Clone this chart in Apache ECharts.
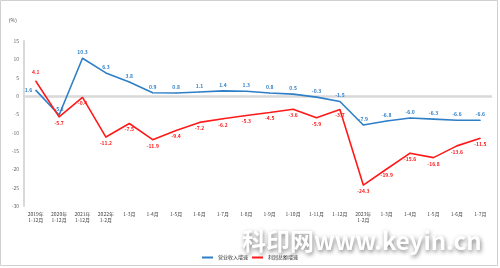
<!DOCTYPE html>
<html><head><meta charset="utf-8">
<script src="https://cdn.jsdelivr.net/npm/echarts@6/dist/echarts.min.js"></script>
<style>html,body{margin:0;padding:0;background:#fff}#c{width:500px;height:268px}</style>
</head><body><div id="c"></div>
<script>
var categories = ['2019年\n1-12月','2020年\n1-12月','2021年\n1-12月','2022年\n1-2月','1-3月','1-4月','1-5月','1-6月','1-7月','1-8月','1-9月','1-10月','1-11月','1-12月','2023年\n1-2月','1-3月','1-4月','1-5月','1-6月','1-7月'];
var revenue = [1.6,-5.2,10.3,6.3,3.8,0.9,0.8,1.1,1.4,1.3,0.8,0.5,-0.3,-1.5,-7.9,-6.8,-6.0,-6.3,-6.6,-6.6];
var profit = [4.1,-5.7,-0.4,-11.2,-7.5,-11.9,-9.4,-7.2,-6.2,-5.3,-4.5,-3.6,-5.9,-3.7,-24.3,-19.9,-15.6,-16.8,-13.6,-11.5];
var seriesNames = ['营业收入增速','利润总额增速'];
var blue = '#2f7fc7', red = '#ff1a1a';
var font = 'Noto Sans CJK SC';
var chart = echarts.init(document.getElementById('c'));
function lbl(pos, color){return {show:true, position:pos, fontSize:5, fontWeight:'bold', color:color, fontFamily:font, distance:3,
  formatter:function(p){return Number(p.value).toFixed(1);}};}
var revData = revenue.map(function(v,i){var d={value:v}; if(i===0){d.label={position:'left'};} return d;});
var proData = profit.map(function(v,i){var d={value:v}; if(i===0){d.label={position:'top', distance:6};} return d;});
chart.setOption({
  animation:false,
  grid:{left:24,right:8,top:41,bottom:62},
  legend:{data:seriesNames,bottom:3,left:'center',itemWidth:11,itemHeight:2,itemGap:4,icon:'rect',textStyle:{fontSize:5,color:'#333',fontFamily:font}},
  xAxis:{type:'category',data:categories,boundaryGap:true,axisLine:{show:false},axisTick:{show:false},
    axisLabel:{fontSize:5,color:'#444',fontFamily:font,interval:0,margin:5,lineHeight:6}},
  yAxis:{type:'value',min:-30,max:15,interval:5,
    name:'（%）',nameLocation:'end',nameGap:18,nameTextStyle:{fontSize:5,color:'#444',fontFamily:font,align:'right',padding:[0,4,0,0]},
    axisLine:{show:true,lineStyle:{color:'#d9d9d9',width:2}},axisTick:{show:false},splitLine:{show:false},
    axisLabel:{fontSize:5,color:'#666',fontFamily:font,margin:5}},
  series:[
    {name:seriesNames[0],type:'line',data:revData,color:blue,symbol:'circle',symbolSize:1,showSymbol:true,itemStyle:{color:blue},lineStyle:{width:1.6,color:blue},label:lbl('top',blue),z:3,
     markLine:{silent:true,symbol:'none',label:{show:false},lineStyle:{color:'#d9d9d9',width:2.5,type:'solid'},data:[{yAxis:0}],z:1}},
    {name:seriesNames[1],type:'line',data:proData,color:red,symbol:'circle',symbolSize:1,showSymbol:true,itemStyle:{color:red},lineStyle:{width:1.6,color:red},label:lbl('bottom',red),z:4}
  ],
  graphic:[
    {type:'rect',shape:{x:0.5,y:0.5,width:497,height:265},style:{fill:'none',stroke:'#d0d0d0',lineWidth:1},z:-1},
    {type:'text',x:242,y:229,style:{text:'科印网www.keyin.cn',fontSize:24,fontWeight:'bold',fontFamily:font,fill:'#ffffff',
      textShadowBlur:4,textShadowColor:'rgba(0,0,0,0.5)',textShadowOffsetX:1,textShadowOffsetY:2},z:10}
  ]
});
</script></body></html>
